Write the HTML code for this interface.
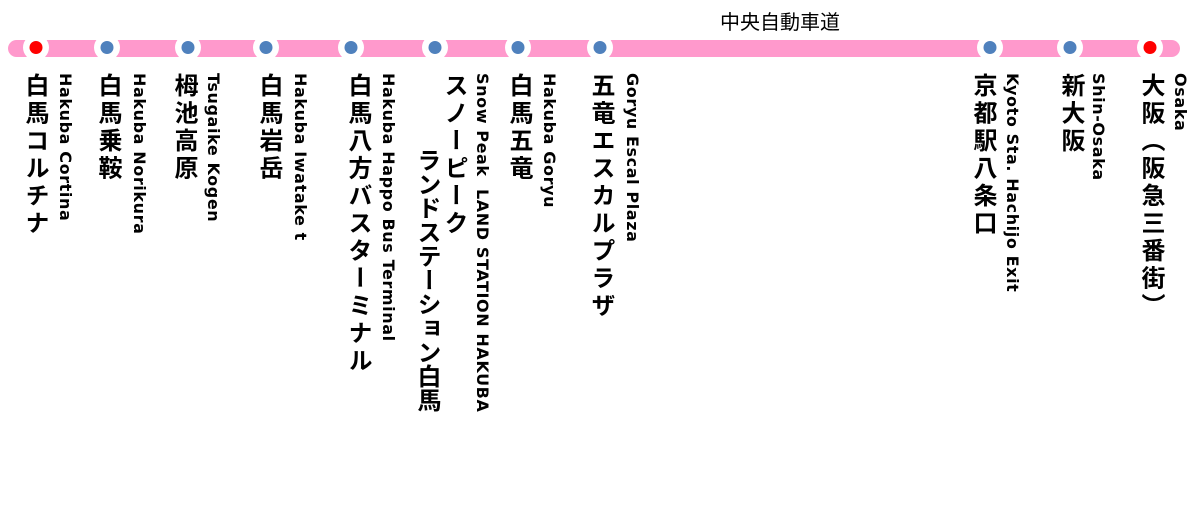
<!DOCTYPE html>
<html><head><meta charset="utf-8"><style>
html,body{margin:0;padding:0;background:#fff;}
body{width:1200px;height:515px;position:relative;overflow:hidden;}
.v{position:absolute;writing-mode:vertical-rl;white-space:nowrap;color:#000;}
.jp{font-family:"Liberation Sans","Noto Sans CJK JP",sans-serif;font-weight:bold;font-size:24px;letter-spacing:3.5px;line-height:26px;width:26px;top:73px;}
.en{font-family:"DejaVu Sans","Noto Sans CJK JP",sans-serif;font-weight:bold;font-size:16px;letter-spacing:0.6px;line-height:17px;width:17px;top:73px;}
.t{position:absolute;left:0;top:6px;width:1560px;text-align:center;font-family:"Liberation Sans","Noto Sans CJK JP",sans-serif;font-size:20px;color:#000;}
</style></head><body>
<div class="t">中央自動車道</div>
<svg width="1200" height="515" style="position:absolute;left:0;top:0">
<rect x="8" y="40" width="1172" height="17" rx="8.5" fill="#ff99cc"/>
<g fill="#fff">
<circle cx="36" cy="47.5" r="13"/><circle cx="107" cy="47.5" r="13"/><circle cx="188" cy="47.5" r="13"/><circle cx="266" cy="47.5" r="13"/><circle cx="351" cy="47.5" r="13"/><circle cx="435" cy="47.5" r="13"/><circle cx="518" cy="47.5" r="13"/><circle cx="600" cy="47.5" r="13"/><circle cx="990" cy="47.5" r="13"/><circle cx="1070" cy="47.5" r="13"/><circle cx="1150" cy="47.5" r="13"/>
</g>
<g fill="#4f81bd">
<circle cx="107" cy="47.5" r="6.5"/><circle cx="188" cy="47.5" r="6.5"/><circle cx="266" cy="47.5" r="6.5"/><circle cx="351" cy="47.5" r="6.5"/><circle cx="435" cy="47.5" r="6.5"/><circle cx="518" cy="47.5" r="6.5"/><circle cx="600" cy="47.5" r="6.5"/><circle cx="990" cy="47.5" r="6.5"/><circle cx="1070" cy="47.5" r="6.5"/>
</g>
<circle cx="36" cy="47.5" r="6.5" fill="#ff0000"/><circle cx="1150" cy="47.5" r="6.5" fill="#ff0000"/>
</svg>
<div class="v jp" style="left:21px">白馬コルチナ</div>
<div class="v en" style="left:57px">Hakuba Cortina</div>
<div class="v jp" style="left:94px">白馬乗鞍</div>
<div class="v en" style="left:131px">Hakuba Norikura</div>
<div class="v jp" style="left:170px">栂池高原</div>
<div class="v en" style="left:205px">Tsugaike Kogen</div>
<div class="v jp" style="left:255px">白馬岩岳</div>
<div class="v en" style="left:292px">Hakuba Iwatake t</div>
<div class="v jp" style="left:344px">白馬八方バスターミナル</div>
<div class="v en" style="left:380px">Hakuba Happo Bus Terminal</div>
<div class="v jp" style="left:440px">スノーピーク</div>
<div class="v jp" style="left:413px;top:148px;letter-spacing:0">ランドステーション白馬</div>
<div class="v en" style="left:474px">Snow Peak&nbsp; LAND STATION HAKUBA</div>
<div class="v jp" style="left:505px">白馬五竜</div>
<div class="v en" style="left:541px">Hakuba Goryu</div>
<div class="v jp" style="left:587px">五竜エスカルプラザ</div>
<div class="v en" style="left:624px">Goryu Escal Plaza</div>
<div class="v jp" style="left:969px">京都駅八条口</div>
<div class="v en" style="left:1004px">Kyoto Sta. Hachijo Exit</div>
<div class="v jp" style="left:1057px">新大阪</div>
<div class="v en" style="left:1090px">Shin-Osaka</div>
<div class="v jp" style="left:1137px">大阪（阪急三番街）</div>
<div class="v en" style="left:1172px">Osaka</div>
</body></html>
